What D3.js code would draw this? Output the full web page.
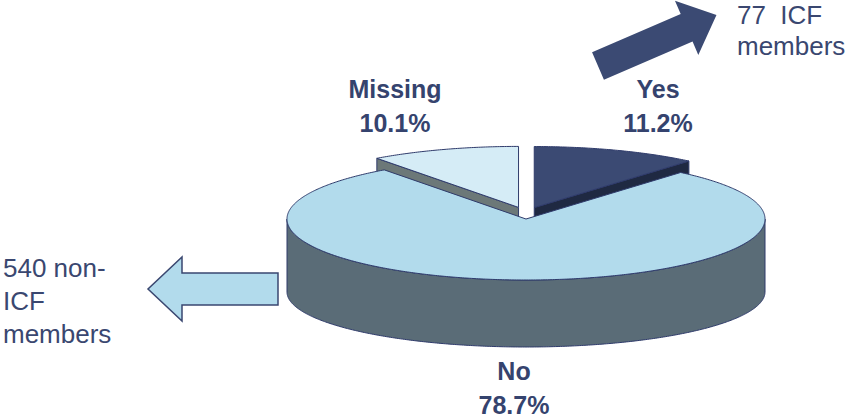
<!DOCTYPE html>
<html><head><meta charset="utf-8">
<script src="https://cdn.jsdelivr.net/npm/d3@7"></script>
<style>body{margin:0;background:#fff}svg{display:block}</style>
</head><body>
<svg id="c" width="847" height="418"></svg>
<script>
// ---- data ----
const categories = ["Yes", "No", "Missing"];
const values = [11.2, 78.7, 10.1];
const valueLabels = ["11.2%", "78.7%", "10.1%"];
const exploded = [true, false, true];
const noteYes = ["77  ICF", "members"];
const noteNo = ["540 non-", "ICF", "members"];

// ---- layout / style ----
const W = 847, H = 418;
const svg = d3.select("#c");
const cx = 526, cy = 219, rx = 239, ry = 61, cyB = 292, ryB = 55;
const exX = 0.1, exY = 0.2;
const topColors = {Yes: "#3b4a73", No: "#b2dbec", Missing: "#d5ecf6"};
const sideColors = {Yes: "#1f2942", No: "#5a6c77", Missing: "#6c7878"};
const strokeC = "#2f3b6b";
const textC = "#3a4770";
const labelPos = {Yes: [658, 98], No: [514, 380], Missing: [395, 98]};
const labelGap = 34;
const font = "'Liberation Sans', Arial, sans-serif";

const pie = d3.pie().sort(null).value(d => d.v);
const arcs = pie(categories.map((c, i) => ({c, v: values[i], lab: valueLabels[i], ex: exploded[i]})));

arcs.forEach(a => {
  const mid = (a.startAngle + a.endAngle) / 2;
  a.ox = a.data.ex ? exX * rx * Math.sin(mid) : 0;
  a.oy = a.data.ex ? -exY * ry * Math.cos(mid) : 0;
});

const topPt = (t, a) => [cx + a.ox + rx * Math.sin(t), cy + a.oy - ry * Math.cos(t)];
const botPt = (t, a) => [cx + a.ox + rx * Math.sin(t), cyB + a.oy - ryB * Math.cos(t)];
const line = d3.line();
const samples = (s, e) => { const n = Math.max(2, Math.ceil((e - s) / 0.01)); return d3.range(n + 1).map(i => s + (e - s) * i / n); };

function drawSlice(a) {
  const g = svg.append("g").attr("class", "slice-" + a.data.c);
  const s = a.startAngle, e = a.endAngle;
  const ct = [cx + a.ox, cy + a.oy], cb = [cx + a.ox, cyB + a.oy];
  // radial faces
  const faces = [];
  if (Math.cos(s - Math.PI / 2) < -1e-6) faces.push(s);
  if (Math.cos(e + Math.PI / 2) < -1e-6) faces.push(e);
  faces.forEach(t => {
    g.append("path").attr("d", line([ct, topPt(t, a), botPt(t, a), cb]) + "Z")
      .attr("fill", sideColors[a.data.c]).attr("stroke", strokeC).attr("stroke-width", 1).attr("stroke-linejoin", "round");
  });
  // outer wall (front-facing part)
  const ws = Math.max(s, Math.PI / 2), we = Math.min(e, 3 * Math.PI / 2);
  if (we > ws) {
    const ts = samples(ws, we);
    const pts = ts.map(t => topPt(t, a)).concat(ts.slice().reverse().map(t => botPt(t, a)));
    g.append("path").attr("d", line(pts) + "Z")
      .attr("fill", sideColors[a.data.c]).attr("stroke", strokeC).attr("stroke-width", 1);
  }
  // top face
  const tp = [ct].concat(samples(s, e).map(t => topPt(t, a)));
  g.append("path").attr("d", line(tp) + "Z")
    .attr("fill", topColors[a.data.c]).attr("stroke", strokeC).attr("stroke-width", 1).attr("stroke-linejoin", "round");
}

// painter's order: exploded (back) first, then the rest
arcs.filter(a => a.data.ex).forEach(drawSlice);
arcs.filter(a => !a.data.ex).forEach(drawSlice);

// labels
arcs.forEach(a => {
  const p = labelPos[a.data.c];
  const t = svg.append("text").attr("x", p[0]).attr("y", p[1]).attr("text-anchor", "middle")
    .attr("font-family", font).attr("font-weight", "bold").attr("font-size", 25).attr("fill", "#35436e");
  t.append("tspan").attr("x", p[0]).attr("y", p[1]).text(a.data.c);
  t.append("tspan").attr("x", p[0]).attr("y", p[1] + labelGap).text(a.data.lab);
});

// arrows
function arrow(tail, angleDeg, len, shaft, headW, headL, fill, stroke) {
  const hs = shaft / 2, hh = headW / 2, b = len - headL;
  const pts = [[0, -hs], [b, -hs], [b, -hh], [len, 0], [b, hh], [b, hs], [0, hs]];
  svg.append("path").attr("d", line(pts) + "Z")
    .attr("transform", `translate(${tail[0]},${tail[1]}) rotate(${angleDeg})`)
    .attr("fill", fill).attr("stroke", stroke || "none").attr("stroke-width", 1.5).attr("stroke-linejoin", "miter");
}
arrow([598, 66], -23.3, 129, 30, 59, 32.5, "#3b4a73", null);
arrow([278, 289], 180, 130, 32, 64, 34, "#b2dbec", "#3a4770");

// notes
function note(lines, x, y0, gap) {
  const t = svg.append("text").attr("font-family", font).attr("font-size", 26).attr("fill", textC)
    .attr("xml:space", "preserve").style("white-space", "pre");
  lines.forEach((l, i) => t.append("tspan").attr("x", x).attr("y", y0 + i * gap).text(l));
}
note(noteYes, 737, 24, 31);
note(noteNo, 3, 277, 33);
</script>
</body></html>
